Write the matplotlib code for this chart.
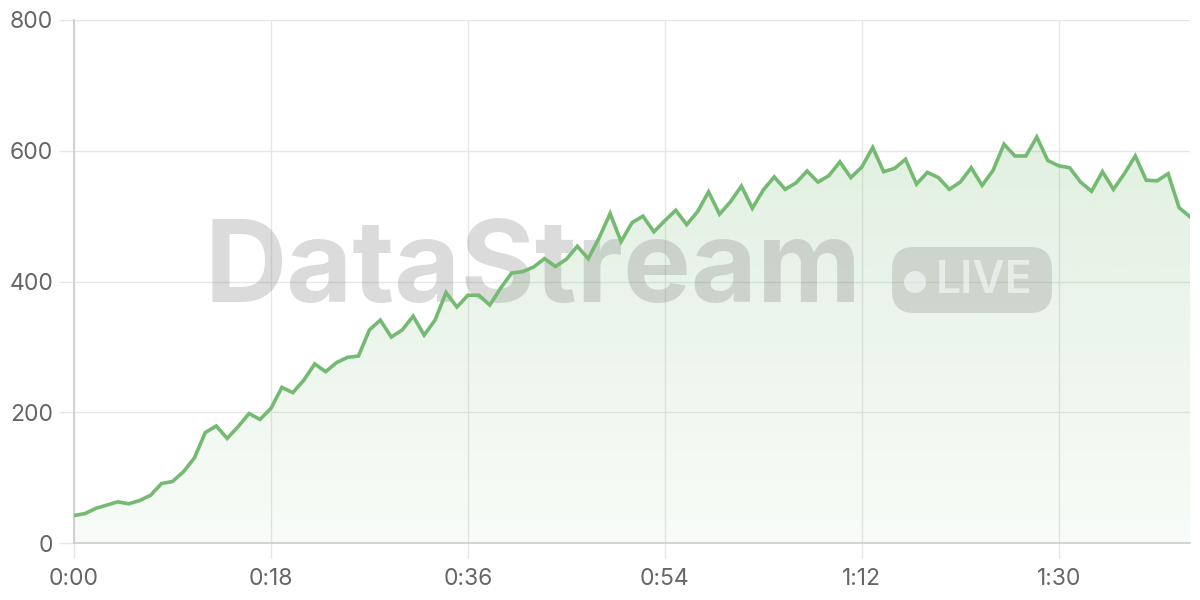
import numpy as np
import matplotlib.pyplot as plt
from matplotlib.patches import FancyBboxPatch, Ellipse
from matplotlib.ticker import FuncFormatter

# seconds since start
t = list(range(103))
vals = [42, 45, 53, 58, 63, 60, 65, 73, 91, 94, 109, 130, 169, 179, 160, 178, 198, 189, 206, 238,
        230, 249, 274, 262, 276, 284, 286, 326, 341, 315, 326, 347, 318, 341, 383, 361, 379, 379, 364, 390,
        413, 415, 422, 435, 423, 434, 454, 435, 467, 504, 461, 490, 500, 476, 493, 509, 487, 507, 537, 503,
        522, 546, 512, 540, 560, 541, 551, 569, 552, 562, 583, 559, 575, 605, 568, 573, 587, 549, 567, 559,
        541, 552, 574, 547, 570, 610, 592, 592, 621, 585, 577, 574, 552, 538, 568, 541, 565, 592, 555, 554,
        565, 513, 499]
xticks = [0, 18, 36, 54, 72, 90]
yticks = [0, 200, 400, 600, 800]

line_c = '#75ba72'
grid_c = '#e6e6e6'
txt_c = '#666666'

plt.rcParams['font.family'] = ['Inter', 'DejaVu Sans']

fig = plt.figure(figsize=(12, 6), dpi=100)
ax = fig.add_axes([74 / 1200, 57 / 600, (1190 - 74) / 1200, 523 / 600])

ax.set_xlim(0, 102)
ax.set_ylim(0, 800)

# data units per pixel, for the watermark badge
ux = 102 / 1116
uy = 800 / 523

# gradient fill under the line
poly = ax.fill_between(t, vals, 0, color='none', lw=0)
grad = np.linspace(0.05, 0.22, 256).reshape(-1, 1)
rgba = np.zeros((256, 1, 4))
rgba[..., 0] = 0x72 / 255
rgba[..., 1] = 0xb9 / 255
rgba[..., 2] = 0x6f / 255
rgba[..., 3] = grad
im = ax.imshow(rgba, aspect='auto', extent=[0, 102, 0, 650], origin='lower', zorder=1)
im.set_clip_path(poly.get_paths()[0], transform=ax.transData)

ax.plot(t, vals, color=line_c, lw=2.6, zorder=3, solid_joinstyle='miter')

# watermark
ax.text((533 - 74) * ux, (543 - 272) * uy, 'DataStream', fontsize=82, fontweight='bold',
        color='#888888', alpha=0.3, ha='center', va='center', zorder=2)
pill = FancyBboxPatch(((892 - 74) * ux, (543 - 313) * uy), 160 * ux, 66 * uy,
                      boxstyle=f'round,pad=0,rounding_size={22 * ux}', mutation_aspect=uy / ux,
                      fc='#888888', ec='none', alpha=0.28, zorder=2)
ax.add_patch(pill)
ax.add_patch(Ellipse(((915 - 74) * ux, (543 - 282) * uy), 22 * ux, 22 * uy, fc='white', ec='none',
                     alpha=0.55, zorder=2))
ax.text((984 - 74) * ux, (543 - 281) * uy, 'LIVE', fontsize=32, fontweight='semibold', color='white',
        alpha=0.55, ha='center', va='center', zorder=2)

ax.set_xticks(xticks)
ax.set_yticks(yticks)
ax.xaxis.set_major_formatter(FuncFormatter(lambda v, p: f'{int(v) // 60}:{int(v) % 60:02d}'))
ax.grid(True, color=grid_c, lw=1, zorder=0)
ax.set_axisbelow(True)
for s in ['top', 'right']:
    ax.spines[s].set_visible(False)
for s in ['left', 'bottom']:
    ax.spines[s].set_color('#cccccc')
    ax.spines[s].set_linewidth(1.2)
ax.tick_params(axis='both', length=11, width=1, color=grid_c, labelcolor=txt_c, labelsize=16.5, pad=4)
ax.tick_params(axis='x', pad=7)

fig.savefig('out.png', dpi=100)
